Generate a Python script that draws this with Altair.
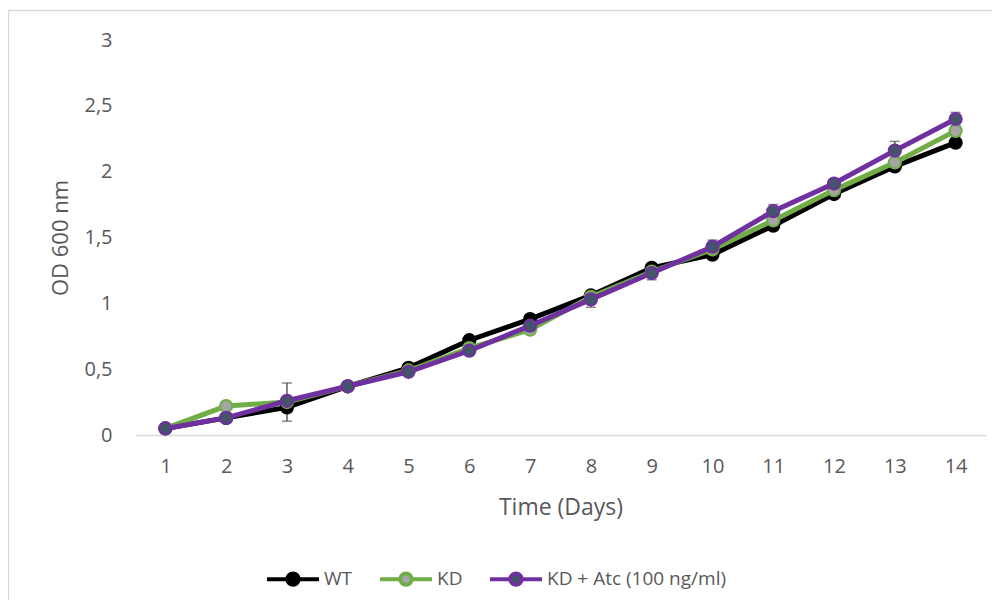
import altair as alt
import pandas as pd

days = list(range(1, 15))
series_names = ["WT", "KD", "KD + Atc (100 ng/ml)"]
wt = [0.05, 0.13, 0.21, 0.37, 0.51, 0.72, 0.88, 1.06, 1.27, 1.37, 1.59, 1.83, 2.04, 2.22]
kd = [0.05, 0.22, 0.25, 0.37, 0.49, 0.66, 0.80, 1.05, 1.24, 1.41, 1.63, 1.86, 2.07, 2.31]
atc = [0.05, 0.13, 0.26, 0.37, 0.48, 0.64, 0.83, 1.03, 1.23, 1.43, 1.70, 1.91, 2.16, 2.40]
wt_err = [0.01, 0.02, 0.03, 0.02, 0.02, 0.02, 0.02, 0.02, 0.02, 0.02, 0.03, 0.02, 0.03, 0.03]
kd_err = [0.01, 0.02, 0.145, 0.02, 0.02, 0.02, 0.02, 0.03, 0.02, 0.03, 0.03, 0.03, 0.04, 0.04]
atc_err = [0.01, 0.02, 0.02, 0.02, 0.02, 0.03, 0.03, 0.06, 0.05, 0.05, 0.05, 0.03, 0.07, 0.05]
y_ticks = [0, 0.5, 1, 1.5, 2, 2.5, 3]

line_colors = ["#000000", "#70ad47", "#7030a0"]
fill_colors = ["#000000", "#a5a5a5", "#44546a"]

rows = []
for name, vals, errs in zip(series_names, [wt, kd, atc], [wt_err, kd_err, atc_err]):
    for d, v, e in zip(days, vals, errs):
        rows.append({"day": d, "series": name, "od": v, "lo": v - e, "hi": v + e})
df = pd.DataFrame(rows)

TXT = "#595959"
FONT = "Open Sans"

x_axis = alt.Axis(
    title="Time (Days)", labelAngle=0, domainColor="#d9d9d9", domainWidth=1.5,
    ticks=False, tickSize=0, grid=False, labelPadding=31, labelBaseline="middle",
    labelFontSize=20, titleFontSize=23, titleX=425.5, titleY=72,
    titleBaseline="middle", titleAlign="center",
)
y_axis = alt.Axis(
    title="OD 600 nm", values=y_ticks, labelExpr="replace(toString(datum.value), '.', ',')",
    domain=False, ticks=False, tickSize=0, grid=False, labelPadding=23,
    labelFontSize=20, titleFontSize=22, titleAngle=270, titleX=-75, titleY=197.5,
    titleBaseline="middle", titleAlign="center",
)
x_scale = alt.Scale(type="point", padding=0.5)
y_scale = alt.Scale(domain=[0, 3], nice=False)
stroke_scale = alt.Scale(domain=series_names, range=line_colors)
fill_scale = alt.Scale(domain=series_names, range=fill_colors)


def X():
    return alt.X("day:O", scale=x_scale, axis=x_axis, title="Time (Days)")


def Y(field):
    return alt.Y(f"{field}:Q", scale=y_scale, axis=y_axis, title="OD 600 nm")


legend_path = ("M-1,0L-0.22,0M0.22,0L1,0M0.22,0A0.22,0.22,0,1,1,-0.22,0"
               "A0.22,0.22,0,1,1,0.22,0Z")
legend = alt.Legend(
    orient="none", legendX=130, legendY=511, direction="horizontal",
    symbolType=legend_path, symbolSize=2704, symbolStrokeWidth=4,
    labelOffset=3, columnPadding=19, labelFontSize=19, labelColor=TXT,
    labelFont=FONT, labelLimit=500, padding=0,
)

base = alt.Chart(df)
dummy = alt.Chart(pd.DataFrame({"a": [0]}))

border_left = dummy.mark_rule(color="#d9d9d9", strokeWidth=1.3).encode(
    x=alt.value(-126.5), y=alt.value(-29.5), y2=alt.value(580))
border_top = dummy.mark_rule(color="#d9d9d9", strokeWidth=1.3).encode(
    x=alt.value(-126.5), x2=alt.value(900), y=alt.value(-29.5))

err_rule = base.mark_rule(color="#595959", strokeWidth=1.5).encode(
    x=X(), y=Y("lo"), y2="hi:Q")
err_cap_lo = base.mark_tick(color="#595959", size=10, thickness=1.5).encode(
    x=X(), y=Y("lo"))
err_cap_hi = base.mark_tick(color="#595959", size=10, thickness=1.5).encode(
    x=X(), y=Y("hi"))

layers = [border_left, border_top, err_rule, err_cap_lo, err_cap_hi]
for name in series_names:
    s = base.transform_filter(alt.datum.series == name)
    layers.append(
        s.mark_line(strokeWidth=5).encode(
            x=X(), y=Y("od"),
            stroke=alt.Stroke("series:N", scale=stroke_scale, legend=legend, title=""),
        )
    )
    layers.append(
        s.mark_circle(size=150, strokeWidth=2, opacity=1).encode(
            x=X(), y=Y("od"),
            stroke=alt.Stroke("series:N", scale=stroke_scale, legend=legend, title=""),
            fill=alt.Fill("series:N", scale=fill_scale, legend=legend, title=""),
        )
    )

chart = alt.layer(*layers).properties(
    width=851, height=395,
    autosize=alt.AutoSizeParams(type="none"),
    padding={"left": 127, "top": 32, "right": 6, "bottom": 165},
).configure_view(stroke=None).configure_axis(
    labelFont=FONT, titleFont=FONT, labelColor=TXT, titleColor=TXT, titleFontWeight="normal",
)

chart.save("out.html", embed_options={"renderer": "svg", "actions": False})
